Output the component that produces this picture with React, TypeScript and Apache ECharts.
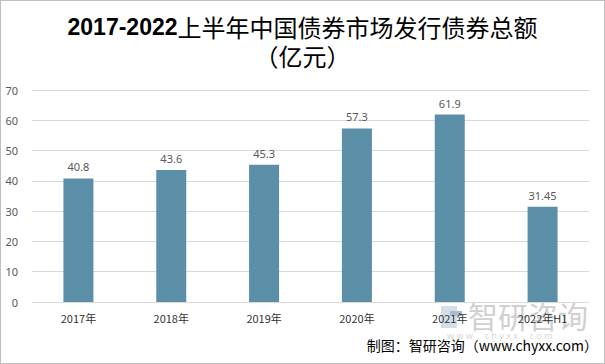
import React, { useEffect, useRef } from "react";
import * as echarts from "echarts";

const categories = ["2017年", "2018年", "2019年", "2020年", "2021年", "2022年H1"];
const values = [40.8, 43.6, 45.3, 57.3, 61.9, 31.45];
const valueLabels = ["40.8", "43.6", "45.3", "57.3", "61.9", "31.45"];
const yTicks = [0, 10, 20, 30, 40, 50, 60, 70];

export default function App() {
  const ref = useRef<HTMLDivElement>(null);
  useEffect(() => {
    const chart = echarts.init(ref.current!, null, { renderer: "svg" });
    chart.setOption({
      animation: false,
      backgroundColor: "#ffffff",
      title: {
        text: "{b|2017-2022}上半年中国债券市场发行债券总额\n（亿元）",
        left: "center",
        top: 6,
        textStyle: {
          fontSize: 24,
          fontWeight: "normal",
          color: "#000",
          fontFamily: "Noto Sans CJK SC",
          lineHeight: 29,
          rich: {
            b: { fontSize: 23, fontWeight: "bold", color: "#000", fontFamily: "Liberation Sans", lineHeight: 29 },
          },
        },
      },
      grid: { left: 31, right: 15, top: 89, bottom: 61, containLabel: false },
      xAxis: {
        type: "category",
        data: categories,
        axisLine: { lineStyle: { color: "#D9D9D9" } },
        axisTick: { show: false },
        axisLabel: { color: "#333", fontSize: 11, margin: 10, fontFamily: "Noto Sans CJK SC" },
      },
      yAxis: {
        type: "value",
        min: yTicks[0],
        max: yTicks[yTicks.length - 1],
        interval: 10,
        axisLine: { show: false },
        axisTick: { show: false },
        splitLine: { lineStyle: { color: "#D9D9D9" } },
        axisLabel: { color: "#595959", fontSize: 11, margin: 14, fontFamily: "Noto Sans" },
      },
      series: [
        {
          type: "bar",
          data: values,
          barWidth: 30,
          itemStyle: { color: "#5B8FA8" },
          label: {
            show: true,
            position: "top",
            distance: 6,
            color: "#595959",
            fontSize: 11,
            fontFamily: "Noto Sans",
            formatter: (p: any) => valueLabels[p.dataIndex],
          },
        },
      ],
      graphic: [
        {
          type: "group",
          left: 440,
          top: 299,
          silent: true,
          z: -1,
          children: [
            { type: "rect", shape: { x: 0, y: 6, width: 16, height: 22 }, style: { fill: "#D5DEE7" } },
            { type: "rect", shape: { x: 9, y: 11, width: 12, height: 5 }, style: { fill: "#A9BDD1" } },
            {
              type: "text",
              x: 27,
              y: 0,
              style: { text: "智研咨询", fontSize: 30, fill: "#D0D0D0", fontFamily: "Noto Sans CJK SC" },
            },
            {
              type: "text",
              x: 6,
              y: 31,
              style: { text: "w w w  .  c h y x x  .  c o m", fontSize: 9, fill: "#D8D8D8", fontFamily: "Noto Sans" },
            },
          ],
        },
        {
          type: "text",
          right: 6,
          top: 337,
          style: {
            text: "制图：智研咨询（www.chyxx.com）",
            fontSize: 14,
            fill: "#000",
            fontFamily: "Noto Sans CJK SC",
          },
        },
      ],
    });
    return () => chart.dispose();
  }, []);
  return (
    <div
      ref={ref}
      style={{ width: 603, height: 362, border: "1px solid #BFBFBF", position: "absolute", left: 0, top: 0 }}
    />
  );
}
